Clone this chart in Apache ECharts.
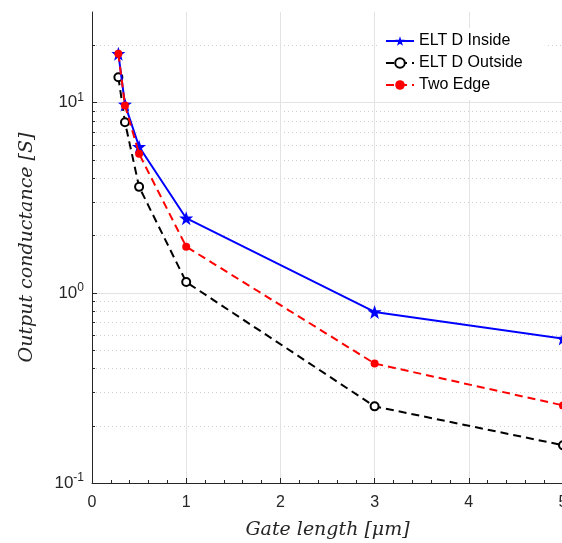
<!DOCTYPE html>
<html><head><meta charset="utf-8">
<script src="https://cdn.jsdelivr.net/npm/echarts@6/dist/echarts.min.js"></script>
<style>html,body{margin:0;padding:0;background:#fff}#c{width:562px;height:543px}</style>
</head><body><div id="c"></div>
<script>
const gateLength = [0.28, 0.35, 0.5, 1, 3, 5];
const eltInside = [18.1, 9.8, 5.87, 2.47, 0.794, 0.575];
const eltOutside = [13.6, 7.9, 3.61, 1.14, 0.253, 0.158];
const twoEdge = [18.1, 9.67, 5.39, 1.75, 0.425, 0.256];
const seriesNames = ['ELT D Inside', 'ELT D Outside', 'Two Edge'];
const xTicks = [0, 1, 2, 3, 4, 5];
const yMajorTicks = [0.1, 1, 10];
const yMinorTicks = [0.2,0.3,0.4,0.5,0.6,0.7,0.8,0.9,2,3,4,5,6,7,8,9,20];

const chart = echarts.init(document.getElementById('c'));
const axisColor = '#262626';
const gridColor = '#e3e3e3';
const pts = a => gateLength.map((x, i) => [x, a[i]]);
const sup = {
  '0.1': '{b|10}{s|-1}', '1': '{b|10}{s|0}', '10': '{b|10}{s|1}'
};
chart.setOption({
  animation: false,
  grid: { left: 92, right: -1, top: 12, bottom: 60, containLabel: false, outerBoundsMode: 'none' },
  xAxis: {
    type: 'value', min: 0, max: 5, interval: 1,
    axisLine: { lineStyle: { color: axisColor, width: 1 } },
    axisTick: { inside: true, length: 5, lineStyle: { color: axisColor } },
    minorTick: { show: true, splitNumber: 5, length: 3, lineStyle: { color: axisColor } },
    splitLine: { show: true, lineStyle: { color: gridColor, width: 1 } },
    axisLabel: { color: axisColor, fontSize: 16, fontFamily: 'Liberation Sans', margin: 12,
      customValues: xTicks },
    name: 'Gate length [\u03bcm]', nameLocation: 'middle', nameGap: 38,
    nameTextStyle: { fontFamily: 'DejaVu Serif', fontStyle: 'italic', fontSize: 19, color: axisColor }
  },
  yAxis: [{
    type: 'log', logBase: 10, min: 0.1, max: 30,
    axisLine: { show: true, lineStyle: { color: axisColor, width: 1 } },
    axisTick: { inside: true, length: 5, lineStyle: { color: axisColor }, customValues: yMajorTicks },
    splitLine: { show: true, lineStyle: { color: gridColor, width: 1 } },
    axisLabel: { customValues: yMajorTicks, margin: 8, formatter: v => sup[String(+v.toPrecision(3))] || '',
      rich: { b: { fontSize: 17, color: axisColor, fontFamily: 'Liberation Sans' },
              s: { fontSize: 12, color: axisColor, fontFamily: 'Liberation Sans', verticalAlign: 'top', padding: [0,0,10,0] } } },
    name: 'Output conductance [S]', nameLocation: 'middle', nameGap: 55, nameRotate: 90,
    nameTextStyle: { fontFamily: 'DejaVu Serif', fontStyle: 'italic', fontSize: 19, color: axisColor }
  }, {
    type: 'log', logBase: 10, min: 0.1, max: 30, position: 'left', offset: 0,
    axisLine: { show: false },
    axisTick: { show: true, inside: true, length: 3, lineStyle: { color: axisColor }, customValues: yMinorTicks },
    axisLabel: { show: false, customValues: yMinorTicks },
    splitLine: { show: true, lineStyle: { color: '#cfcfcf', type: [1, 3], width: 1 } }
  }],
  legend: {
    left: 379, top: 28, orient: 'vertical', itemWidth: 28, itemHeight: 12, itemGap: 4,
    backgroundColor: '#fff', padding: [4, 22, 6, 6],
    textStyle: { fontSize: 16, color: '#000', fontFamily: 'Liberation Sans', lineHeight: 18 },
    data: seriesNames
  },
  series: [
    { name: seriesNames[0], type: 'line', data: pts(eltInside), symbol: 'path://M0,-10L2.35,-3.24L9.51,-3.09L3.8,1.24L5.88,8.09L0,4L-5.88,8.09L-3.8,1.24L-9.51,-3.09L-2.35,-3.24Z', symbolSize: 14,
      itemStyle: { color: '#0000ff' }, lineStyle: { color: '#0000ff', width: 2 }, clip: false, z: 3 },
    { name: seriesNames[1], type: 'line', data: pts(eltOutside), symbol: 'emptyCircle', symbolSize: 8,
      itemStyle: { color: '#000', borderColor: '#000', borderWidth: 2 }, lineStyle: { color: '#000', width: 2, type: [8, 5] }, clip: false, z: 2 },
    { name: seriesNames[2], type: 'line', data: pts(twoEdge), symbol: 'circle', symbolSize: 8,
      itemStyle: { color: '#ff0000' }, lineStyle: { color: '#ff0000', width: 2, type: [8, 5] }, clip: false, z: 4 }
  ]
});
</script></body></html>
